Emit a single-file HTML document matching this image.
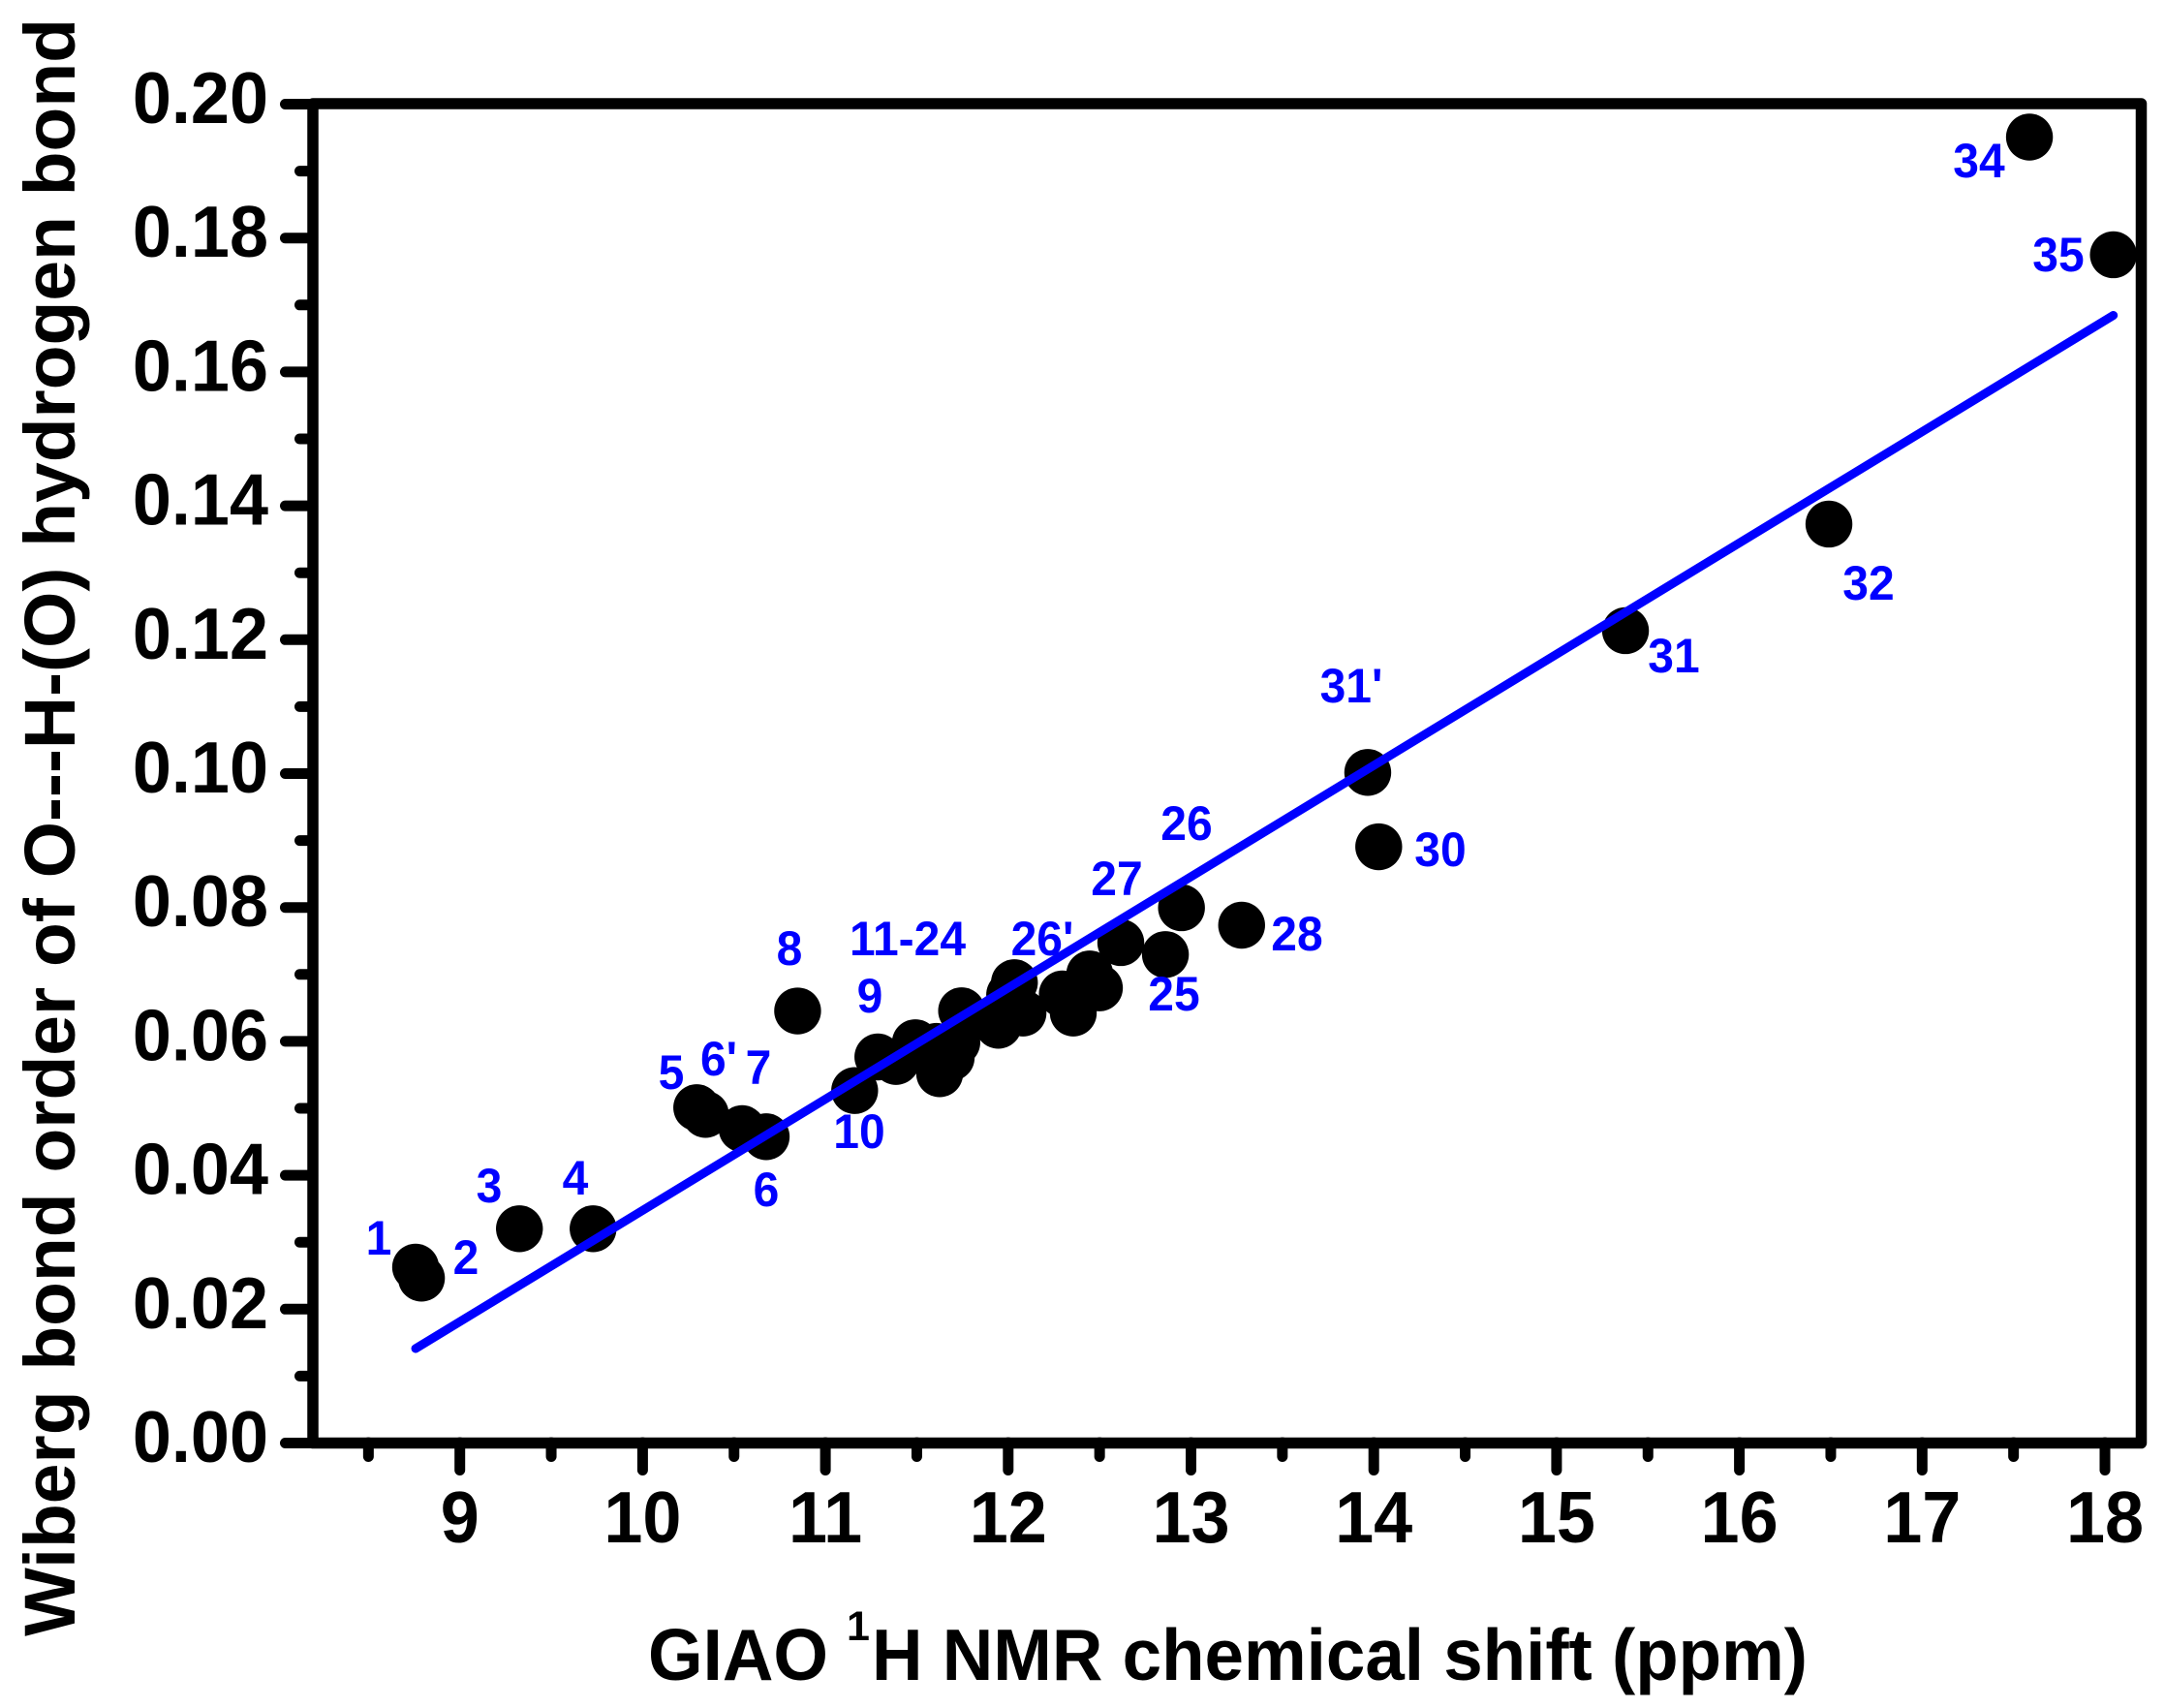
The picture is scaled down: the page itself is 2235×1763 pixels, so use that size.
<!DOCTYPE html>
<html>
<head>
<meta charset="utf-8">
<title>Wiberg bond order vs GIAO 1H NMR chemical shift</title>
<style>
html,body{margin:0;padding:0;background:#fff;}
svg{display:block;}
text{font-family:"Liberation Sans",Arial,sans-serif;font-weight:bold;}
.pt{font-size:50px;fill:#0000ff;text-anchor:middle;}
</style>
</head>
<body>
<svg id="chart" xmlns="http://www.w3.org/2000/svg" width="2235" height="1763" viewBox="0 0 2235 1763">
  <rect x="0" y="0" width="2235" height="1763" fill="#fff"/>
  <g id="ticks"></g>
  <g id="tick-labels"></g>
  <g id="points"></g>
  <g id="fit"></g>
  <rect x="323" y="107" width="1887.5" height="1382.5" fill="none" stroke="#000" stroke-width="11.5" stroke-linejoin="round"/>
  <g>
    <text class="pt narrow" x="391" y="1295">1</text>
    <text class="pt narrow" x="481" y="1315">2</text>
    <text class="pt narrow" x="505" y="1241">3</text>
    <text class="pt narrow" x="594" y="1233">4</text>
    <text class="pt narrow" x="693" y="1124">5</text>
    <text class="pt narrow" x="742" y="1110">6'</text>
    <text class="pt narrow" x="783" y="1119">7</text>
    <text class="pt narrow" x="791" y="1245">6</text>
    <text class="pt narrow" x="815" y="996">8</text>
    <text class="pt narrow" x="898" y="1045">9</text>
    <text class="pt narrow" x="887" y="1185">10</text>
    <text class="pt narrow" x="937" y="986">11-24</text>
    <text class="pt narrow" x="1076" y="986">26'</text>
    <text class="pt narrow" x="1153" y="924">27</text>
    <text class="pt narrow" x="1212" y="1043">25</text>
    <text class="pt narrow" x="1225" y="867">26</text>
    <text class="pt narrow" x="1339" y="981">28</text>
    <text class="pt narrow" x="1487" y="894">30</text>
    <text class="pt narrow" x="1395" y="725">31'</text>
    <text class="pt narrow" x="1728" y="694">31</text>
    <text class="pt narrow" x="1929" y="619">32</text>
    <text class="pt narrow" x="2043" y="183">34</text>
    <text class="pt narrow" x="2125" y="280">35</text>
  </g>
  <text transform="translate(77,1689) rotate(-90)" font-size="74" textLength="1670" lengthAdjust="spacingAndGlyphs" fill="#000">Wiberg bond order of O---H-(O) hydrogen bond</text>
  <g fill="#000">
    <text x="669" y="1734" font-size="75" textLength="186" lengthAdjust="spacingAndGlyphs">GIAO</text>
    <text x="886" y="1693" font-size="43" text-anchor="middle">1</text>
    <text x="900" y="1734" font-size="75" textLength="966" lengthAdjust="spacingAndGlyphs">H NMR chemical shift (ppm)</text>
  </g>
</svg>
<script>
var pointX = [8.758,8.790,9.326,9.729,10.296,10.344,10.544,10.676,10.848,11.160,11.287,11.386,11.492,11.625,11.688,11.719,11.745,11.607,11.554,11.946,12.081,12.034,12.008,11.996,12.296,12.356,12.499,12.446,12.616,12.860,12.948,13.277,14.027,13.967,15.377,16.490,17.587,18.046];
var pointY = [0.02627,0.02463,0.03201,0.03201,0.05010,0.04909,0.04696,0.04576,0.06454,0.05265,0.05767,0.05699,0.05980,0.05517,0.05757,0.05984,0.06457,0.05926,0.05829,0.06240,0.06423,0.06877,0.06698,0.06505,0.06708,0.06423,0.06799,0.07007,0.07475,0.07297,0.07996,0.07735,0.08907,0.10017,0.12135,0.13727,0.19508,0.17750];
var fitX = [8.758,18.046];
var fitY = [0.01411,0.16845];
var xMajorTicks = [9,10,11,12,13,14,15,16,17,18];
var xMinorTicks = [8.5,9.5,10.5,11.5,12.5,13.5,14.5,15.5,16.5,17.5];
var yMajorTicks = [0,0.02,0.04,0.06,0.08,0.10,0.12,0.14,0.16,0.18,0.20];
var yMinorTicks = [0.01,0.03,0.05,0.07,0.09,0.11,0.13,0.15,0.17,0.19];
var yTickLabels = ["0.00","0.02","0.04","0.06","0.08","0.10","0.12","0.14","0.16","0.18","0.20"];

var NS = "http://www.w3.org/2000/svg";
function sx(v){ return 474.7 + (v - 9) * 188.7; }
function sy(v){ return 1489.5 - v * 6910; }
function tickLine(parent, x1, y1, x2, y2){
  var l = document.createElementNS(NS, "line");
  l.setAttribute("x1", x1); l.setAttribute("y1", y1);
  l.setAttribute("x2", x2); l.setAttribute("y2", y2);
  l.setAttribute("stroke", "#000");
  l.setAttribute("stroke-width", "11");
  l.setAttribute("stroke-linecap", "round");
  parent.appendChild(l);
  return l;
}
function tickText(parent, str, x, y, anchor){
  var t = document.createElementNS(NS, "text");
  t.textContent = str;
  t.setAttribute("x", x); t.setAttribute("y", y);
  t.setAttribute("font-size", "75");
  t.setAttribute("text-anchor", anchor);
  t.setAttribute("fill", "#000");
  t.setAttribute("class", "narrow");
  parent.appendChild(t);
  return t;
}
var ticks = document.getElementById("ticks");
var tickLabels = document.getElementById("tick-labels");
xMajorTicks.forEach(function(v){
  var l = tickLine(ticks, sx(v), 1489, sx(v), 1517.5);
  
  
  var t = tickText(tickLabels, String(v), sx(v), 1592, "middle");
  
  
});
xMinorTicks.forEach(function(v){
  var l = tickLine(ticks, sx(v), 1489, sx(v), 1503.5);
  
  
});
yMajorTicks.forEach(function(v, i){
  var l = tickLine(ticks, 323, sy(v), 294.5, sy(v));
  
  
  var t = tickText(tickLabels, yTickLabels[i], 277, sy(v) + 19.5, "end");
  
  
});
yMinorTicks.forEach(function(v){
  var l = tickLine(ticks, 323, sy(v), 309.5, sy(v));
  
  
});
var points = document.getElementById("points");
pointX.forEach(function(v, i){
  var c = document.createElementNS(NS, "circle");
  c.setAttribute("cx", sx(v));
  c.setAttribute("cy", sy(pointY[i]));
  c.setAttribute("r", "24.2");
  c.setAttribute("fill", "#000");
  
  
  points.appendChild(c);
});
var fit = document.createElementNS(NS, "polyline");
fit.setAttribute("points", fitX.map(function(v, i){ return sx(v) + "," + sy(fitY[i]); }).join(" "));
fit.setAttribute("fill", "none");
fit.setAttribute("stroke", "#0000ff");
fit.setAttribute("stroke-width", "9");
fit.setAttribute("stroke-linecap", "round");


document.getElementById("fit").appendChild(fit);
// the reference's glyphs are slightly narrower than natural proportions
Array.prototype.forEach.call(document.querySelectorAll(".narrow"), function(t){
  t.setAttribute("textLength", (t.getComputedTextLength() * 0.96).toFixed(1));
  t.setAttribute("lengthAdjust", "spacingAndGlyphs");
});
</script>
</body>
</html>
